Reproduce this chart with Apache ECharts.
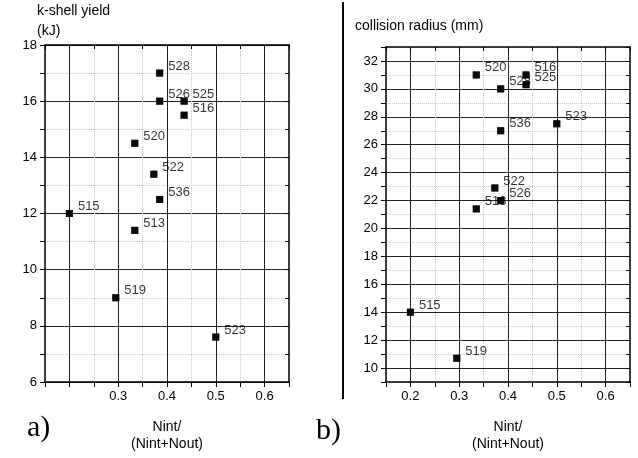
<!DOCTYPE html>
<html>
<head>
<meta charset="utf-8">
<script src="https://cdn.jsdelivr.net/npm/echarts@6/dist/echarts.min.js"></script>
<style>
html, body { margin: 0; padding: 0; background: #fff; }
#chart { width: 638px; height: 458px; }
</style>
</head>
<body>
<div id="chart"></div>
<script>
// a) k-shell yield (kJ) per shot
let yieldShots = ["528", "526", "525", "516", "520", "522", "536", "515", "513", "519", "523"]
let yieldX = [0.385, 0.385, 0.435, 0.435, 0.334, 0.373, 0.385, 0.2, 0.334, 0.295, 0.5]
let yieldY = [17, 16, 16, 15.5, 14.5, 13.4, 12.5, 12, 11.4, 9, 7.6]

// b) collision radius (mm) per shot
let radiusShots = ["520", "516", "525", "528", "536", "523", "522", "526", "513", "515", "519"]
let radiusX = [0.335, 0.437, 0.437, 0.385, 0.385, 0.5, 0.373, 0.385, 0.335, 0.2, 0.295]
let radiusY = [31, 31, 30.3, 30, 27, 27.5, 22.9, 22, 21.4, 14, 10.7]

// tick labels actually printed (0.2 on panel a is cut off in the original)
let xLabelsA = ["0.3", "0.4", "0.5", "0.6"]
let xLabelsB = ["0.2", "0.3", "0.4", "0.5", "0.6"]

const FONT = "Liberation Sans, Arial, sans-serif"
const CLEAR = "rgba(0,0,0,0)"

function points(xs, ys, names){
    let out = []
    xs.forEach((x, i) => {
        out.push({ value: [x, ys[i]], name: names[i] })
    })
    return out
}

function bottomAxis(gridIndex, labels){
    return {
        type: "value", gridIndex: gridIndex, position: "bottom",
        min: 0.15, max: 0.65, interval: 0.05,
        name: "Nint/\n(Nint+Nout)", nameLocation: "middle", nameGap: 37,
        nameTextStyle: { fontFamily: FONT, fontSize: 14, color: "#000", lineHeight: 17 },
        axisLine: { show: true, onZero: false, lineStyle: { color: "#000", width: 1.5 } },
        axisTick: { show: true, inside: false, length: 5, lineStyle: { color: "#000" } },
        axisLabel: {
            fontFamily: FONT, fontSize: 13, color: "#000", margin: 8,
            formatter: v => {
                let s = v.toFixed(1)
                if (Math.abs(v * 10 - Math.round(v * 10)) > 1e-6) return ""
                return labels.indexOf(s) >= 0 ? s : ""
            }
        },
        splitLine: { show: true, lineStyle: { color: "#c8c8c8", type: "dotted" } }
    }
}

function topAxis(gridIndex){
    return {
        type: "value", gridIndex: gridIndex, position: "top",
        min: 0.15, max: 0.65, interval: 0.05,
        axisLine: { show: true, onZero: false, lineStyle: { color: "#000", width: 1.5 } },
        axisTick: { show: true, inside: true, length: 4, lineStyle: { color: "#000" } },
        axisLabel: { show: false },
        splitLine: { show: true, lineStyle: { color: [CLEAR, "#222"], width: 1 } }
    }
}

function leftAxis(gridIndex, min, max){
    return {
        type: "value", gridIndex: gridIndex, position: "left",
        min: min, max: max, interval: 1,
        axisLine: { show: true, onZero: false, lineStyle: { color: "#000", width: 1.5 } },
        axisTick: { show: true, inside: false, length: 5, lineStyle: { color: "#000" } },
        axisLabel: {
            fontFamily: FONT, fontSize: 13, color: "#000", margin: 8,
            formatter: v => (v % 2 === 0 ? String(v) : "")
        },
        splitLine: { show: true, lineStyle: { color: "#c8c8c8", type: "dotted" } }
    }
}

function rightAxis(gridIndex, min, max){
    return {
        type: "value", gridIndex: gridIndex, position: "right",
        min: min, max: max, interval: 1,
        axisLine: { show: true, onZero: false, lineStyle: { color: "#000", width: 1.5 } },
        axisTick: { show: true, inside: true, length: 4, lineStyle: { color: "#000" } },
        axisLabel: { show: false },
        splitLine: {
            show: true,
            lineStyle: { color: min % 2 === 0 ? ["#222", CLEAR] : [CLEAR, "#222"], width: 1 }
        }
    }
}

function labelSeries(xi, yi, data){
    return {
        type: "scatter", xAxisIndex: xi, yAxisIndex: yi, z: 2,
        symbol: "rect", symbolSize: 7,
        itemStyle: { color: "#000" },
        label: {
            show: true, position: "right", distance: 5, offset: [0, -7],
            formatter: p => p.name,
            fontFamily: FONT, fontSize: 13, color: "#000"
        },
        data: data,
        animation: false
    }
}

function markSeries(xi, yi, data){
    return {
        type: "scatter", xAxisIndex: xi, yAxisIndex: yi, z: 5,
        symbol: "rect", symbolSize: 7,
        itemStyle: { color: "#000" },
        data: data,
        animation: false
    }
}

let myChart = echarts.init(document.getElementById("chart"))

let dataA = points(yieldX, yieldY, yieldShots)
let dataB = points(radiusX, radiusY, radiusShots)

let option = {
    backgroundColor: "#fff",
    grid: [
        { left: 45, top: 45, width: 244, height: 341 },
        { left: 386, top: 47, width: 244, height: 340 }
    ],
    xAxis: [bottomAxis(0, xLabelsA), topAxis(0), bottomAxis(1, xLabelsB), topAxis(1)],
    yAxis: [leftAxis(0, 6, 18), rightAxis(0, 6, 18), leftAxis(1, 9, 33), rightAxis(1, 9, 33)],
    series: [
        labelSeries(0, 0, dataA), markSeries(0, 0, dataA),
        labelSeries(2, 2, dataB), markSeries(2, 2, dataB)
    ],
    graphic: [
        { type: "text", left: 37, top: 4, style: { text: "k-shell yield", font: "14px " + FONT, fill: "#000" } },
        { type: "text", left: 37, top: 24, style: { text: "(kJ)", font: "14px " + FONT, fill: "#000" } },
        { type: "text", left: 355, top: 19, style: { text: "collision radius (mm)", font: "14px " + FONT, fill: "#000" } },
        { type: "text", left: 27, top: 413, style: { text: "a)", font: "30px Liberation Serif, Times New Roman, serif", fill: "#000" } },
        { type: "text", left: 316, top: 416, style: { text: "b)", font: "30px Liberation Serif, Times New Roman, serif", fill: "#000" } },
        { type: "line", shape: { x1: 343, y1: 2, x2: 343, y2: 399 }, style: { stroke: "#000", lineWidth: 2 } }
    ]
}

myChart.setOption(option)
</script>
</body>
</html>
